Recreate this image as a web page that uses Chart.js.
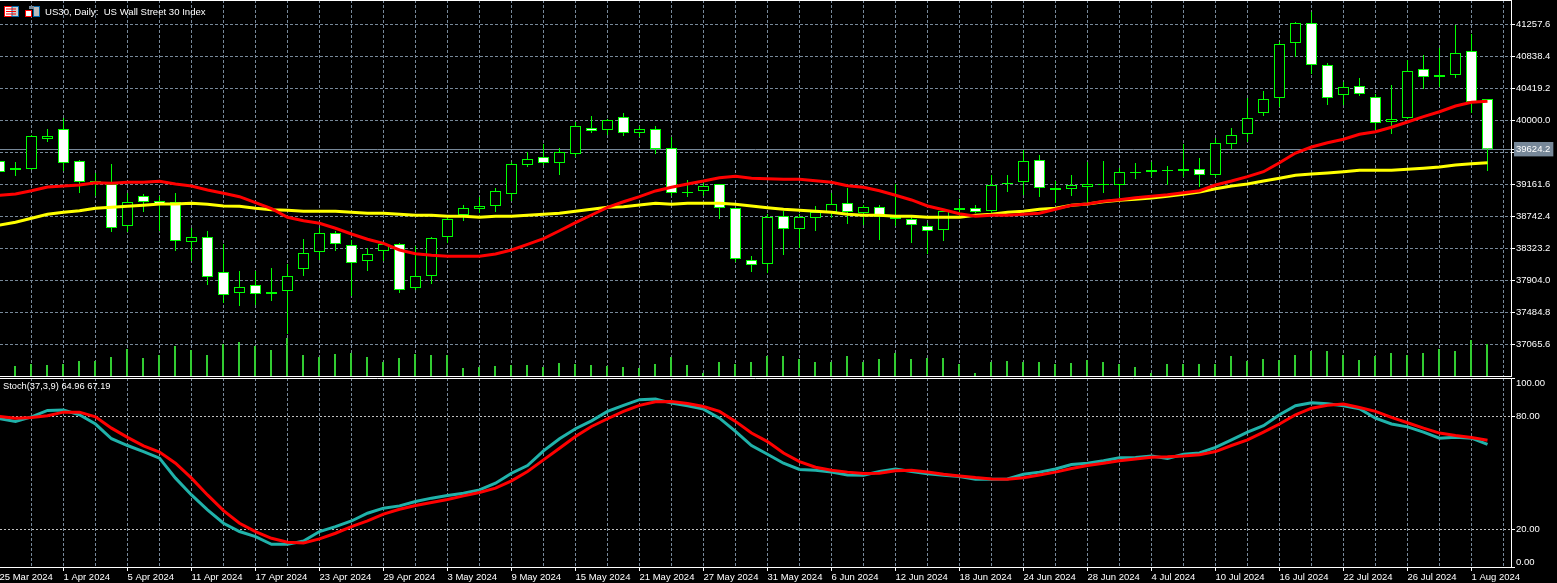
<!DOCTYPE html>
<html>
<head>
<meta charset="utf-8">
<title>US30, Daily</title>
<script src="https://cdn.jsdelivr.net/npm/chart.js@4"></script>
<style>
  html, body { margin: 0; padding: 0; background: #000; overflow: hidden; }
  canvas { position: absolute; left: 0; }
  #priceChart { top: 0; }
  #stochChart { top: 378px; }
  #topLine { position: absolute; left: 0; top: 0; width: 1512px; height: 1px; background: #fff; z-index: 2; }
  .caption { position: absolute; color: #fff; font-family: "Liberation Sans", sans-serif; white-space: pre; z-index: 2; }
  #mainCaption { left: 45px; top: 6px; font-size: 9.6px; }
  #stochCaption { left: 3px; top: 381px; font-size: 9.3px; }
  .icon { position: absolute; top: 6px; z-index: 2; }
</style>
</head>
<body>
<div id="topLine"></div>
<svg class="icon" style="left:4px" width="15" height="11" viewBox="0 0 15 11">
  <rect x="0.5" y="0.5" width="14" height="10" fill="#fff" stroke="#f00"/>
  <rect x="8" y="0.5" width="6.5" height="10" fill="#ccc" stroke="#06a"/>
  <path d="M2 3h10M2 5.5h10M2 8h10" stroke="#f00"/>
</svg>
<svg class="icon" style="left:25px" width="15" height="11" viewBox="0 0 15 11">
  <rect x="0.5" y="4.5" width="6" height="6" fill="#fff" stroke="#f00"/>
  <rect x="8.5" y="0.5" width="6" height="10" fill="#bbb" stroke="#06a"/>
  <rect x="4" y="0" width="5" height="3" fill="#789"/>
</svg>
<div id="mainCaption" class="caption">US30, Daily:  US Wall Street 30 Index</div>
<div id="stochCaption" class="caption">Stoch(37,3,9) 64.96 67.19</div>
<canvas id="priceChart" width="1557" height="377"></canvas>
<canvas id="stochChart" width="1557" height="205"></canvas>
<script>
// Trading days shown on the time axis
const dates = [
    '25 Mar 2024', '26 Mar 2024', '27 Mar 2024', '28 Mar 2024',
    '1 Apr 2024', '2 Apr 2024', '3 Apr 2024', '4 Apr 2024', '5 Apr 2024', '8 Apr 2024', '9 Apr 2024', '10 Apr 2024', '11 Apr 2024', '12 Apr 2024',
    '15 Apr 2024', '16 Apr 2024', '17 Apr 2024', '18 Apr 2024', '19 Apr 2024', '22 Apr 2024', '23 Apr 2024', '24 Apr 2024', '25 Apr 2024', '26 Apr 2024', '29 Apr 2024', '30 Apr 2024',
    '1 May 2024', '2 May 2024', '3 May 2024', '6 May 2024', '7 May 2024', '8 May 2024', '9 May 2024', '10 May 2024', '13 May 2024', '14 May 2024', '15 May 2024', '16 May 2024', '17 May 2024',
    '20 May 2024', '21 May 2024', '22 May 2024', '23 May 2024', '24 May 2024', '27 May 2024', '28 May 2024', '29 May 2024', '30 May 2024', '31 May 2024',
    '3 Jun 2024', '4 Jun 2024', '5 Jun 2024', '6 Jun 2024', '7 Jun 2024', '10 Jun 2024', '11 Jun 2024', '12 Jun 2024', '13 Jun 2024', '14 Jun 2024',
    '17 Jun 2024', '18 Jun 2024', '19 Jun 2024', '20 Jun 2024', '21 Jun 2024', '24 Jun 2024', '25 Jun 2024', '26 Jun 2024', '27 Jun 2024', '28 Jun 2024',
    '1 Jul 2024', '2 Jul 2024', '3 Jul 2024', '4 Jul 2024', '5 Jul 2024', '8 Jul 2024', '9 Jul 2024', '10 Jul 2024', '11 Jul 2024', '12 Jul 2024',
    '15 Jul 2024', '16 Jul 2024', '17 Jul 2024', '18 Jul 2024', '19 Jul 2024', '22 Jul 2024', '23 Jul 2024', '24 Jul 2024', '25 Jul 2024', '26 Jul 2024',
    '29 Jul 2024', '30 Jul 2024', '31 Jul 2024', '1 Aug 2024', '2 Aug 2024'
];

// Daily candles
const opens = [
    39469.5, 39351.6, 39364.7, 39757.7, 39888.7, 39469.5, 39207.5, 39168.2, 38618, 39011,
    38945.5, 38932.4, 38408.4, 38473.9, 38015.4, 37740.3, 37845.1, 37727.2, 37766.5, 38054.7,
    38277.4, 38526.3, 38369.1, 38159.5, 38290.5, 38382.2, 37805.8, 37963, 38473.9, 38762.1,
    38840.7, 38880, 39037.2, 39417.1, 39521.9, 39443.3, 39561.2, 39901.8, 39875.6, 40045.9,
    39836.3, 39888.7, 39639.8, 39063.4, 39076.5, 39168.2, 38853.8, 38172.6, 38120.2, 38749,
    38578.7, 38722.8, 38801.4, 38919.3, 38788.3, 38866.9, 38709.7, 38709.7, 38618, 38565.6,
    38827.6, 38853.8, 38814.5, 39168.2, 39194.4, 39482.6, 39089.6, 39102.7, 39128.9, 39155.1,
    39155.1, 39312.3, 39325.4, 39338.5, 39338.5, 39364.7, 39286.1, 39692.2, 39823.2, 40098.3,
    40294.8, 41015.3, 41277.3, 40727.1, 40334.1, 40452, 40307.9, 39980.4, 40032.8, 40674.7,
    40596.1, 40596.1, 40910.5, 40281.7
];
const highs = [
    39482.6, 39456.4, 39810.1, 39888.7, 40032.8, 39482.6, 39312.3, 39430.2, 39050.3, 39037.2,
    39011, 39050.3, 38591.8, 38552.5, 38382.2, 38028.5, 38028.5, 38067.8, 38120.2, 38447.7,
    38591.8, 38552.5, 38434.6, 38329.8, 38395.3, 38395.3, 38356, 38473.9, 38762.1, 38893.1,
    38997.9, 39115.8, 39456.4, 39587.4, 39692.2, 39639.8, 39980.4, 40059, 40019.7, 40098.3,
    39928, 39928, 39783.9, 39220.6, 39181.3, 39168.2, 38853.8, 38225, 38775.2, 38814.5,
    38775.2, 38880, 39050.3, 39115.8, 38893.1, 38893.1, 39168.2, 38735.9, 38657.3, 38840.7,
    38971.7, 38893.1, 39286.1, 39286.1, 39613.6, 39548.1, 39207.5, 39286.1, 39456.4, 39469.5,
    39377.8, 39443.3, 39456.4, 39404, 39692.2, 39508.8, 39770.8, 39901.8, 40294.8, 40386.5,
    41028.4, 41290.4, 41421.4, 40753.3, 40504.4, 40556.8, 40347.2, 40465.1, 40792.6, 40858.1,
    40949.8, 41251.1, 41133.2, 40281.7
];
const lows = [
    39325.4, 39273, 39351.6, 39718.4, 39338.5, 39050.3, 39011, 38539.4, 38539.4, 38801.4,
    38552.5, 38290.5, 38159.5, 37845.1, 37609.3, 37570, 37583.1, 37635.5, 37203.2, 37963,
    38172.6, 38290.5, 37701, 38028.5, 38159.5, 37740.3, 37779.6, 37858.2, 38395.3, 38683.5,
    38788.3, 38801.4, 38945.5, 39390.9, 39417.1, 39286.1, 39521.9, 39836.3, 39810.1, 39797,
    39783.9, 39561.2, 39011, 38997.9, 39011, 38709.7, 38146.4, 38015.4, 38002.3, 38238.1,
    38329.8, 38552.5, 38722.8, 38644.2, 38631.1, 38434.6, 38618, 38395.3, 38251.2, 38421.5,
    38735.9, 38788.3, 38788.3, 39063.4, 39024.1, 38997.9, 38919.3, 39011, 38919.3, 39050.3,
    38997.9, 39233.7, 39259.9, 39155.1, 39259.9, 39128.9, 39259.9, 39626.7, 39718.4, 40059,
    40176.9, 40831.9, 40609.2, 40203.1, 40203.1, 40321, 39875.6, 39823.2, 40019.7, 40412.7,
    40438.9, 40556.8, 40098.3, 39338.5
];
const closes = [
    39325.4, 39377.8, 39797, 39797, 39443.3, 39194.4, 39168.2, 38591.8, 38932.4, 38932.4,
    38906.2, 38421.5, 38473.9, 37949.9, 37714.1, 37818.9, 37727.2, 37753.4, 37963, 38264.3,
    38526.3, 38382.2, 38133.3, 38251.2, 38382.2, 37779.6, 37963, 38460.8, 38709.7, 38853.8,
    38880, 39076.5, 39430.2, 39495.7, 39443.3, 39587.4, 39928, 39862.5, 40006.6, 39836.3,
    39888.7, 39626.7, 39050.3, 39050.3, 39142, 38853.8, 38185.7, 38107.1, 38735.9, 38578.7,
    38735.9, 38801.4, 38906.2, 38801.4, 38866.9, 38735.9, 38735.9, 38631.1, 38552.5, 38814.5,
    38853.8, 38801.4, 39155.1, 39181.3, 39469.5, 39115.8, 39115.8, 39155.1, 39168.2, 39168.2,
    39325.4, 39325.4, 39351.6, 39351.6, 39364.7, 39286.1, 39705.3, 39810.1, 40032.8, 40281.7,
    41002.2, 41277.3, 40727.1, 40294.8, 40438.9, 40347.2, 39967.3, 40019.7, 40648.5, 40569.9,
    40569.9, 40884.3, 40242.4, 39624.2
];

// Moving averages
const redMa = [
    39020, 39037, 39080, 39129, 39142, 39155, 39185, 39177, 39190, 39190,
    39204, 39168, 39142, 39090, 39046, 39002, 38923, 38845, 38732, 38687,
    38653, 38588, 38513, 38444, 38391, 38304, 38255, 38234, 38221, 38221,
    38221, 38251, 38304, 38378, 38452, 38556, 38661, 38762, 38863, 38936,
    39002, 39077, 39125, 39168, 39207, 39251, 39269, 39243, 39238, 39230,
    39230, 39211, 39190, 39146, 39125, 39080, 39020, 38959, 38880, 38831,
    38779, 38745, 38758, 38758, 38771, 38784, 38837, 38889, 38906, 38942,
    38963, 38989, 39007, 39028, 39054, 39080, 39155, 39207, 39264, 39329,
    39447, 39574, 39653, 39709, 39754, 39819, 39853, 39911, 39980, 40050,
    40115, 40190, 40238, 40252
];
const yellowMa = [
    38631, 38667, 38719, 38771, 38798, 38818, 38850, 38863, 38876, 38889,
    38906, 38906, 38915, 38902, 38880, 38876, 38850, 38831, 38824, 38811,
    38811, 38811, 38798, 38784, 38784, 38771, 38758, 38758, 38745, 38745,
    38732, 38745, 38745, 38758, 38771, 38784, 38811, 38837, 38863, 38871,
    38893, 38915, 38902, 38915, 38915, 38915, 38902, 38880, 38858, 38837,
    38824, 38811, 38798, 38771, 38758, 38758, 38745, 38745, 38732, 38732,
    38732, 38758, 38771, 38798, 38811, 38837, 38850, 38889, 38906, 38936,
    38955, 38968, 38985, 39007, 39033, 39063, 39107, 39142, 39168, 39207,
    39243, 39282, 39299, 39312, 39329, 39348, 39348, 39348, 39361, 39374,
    39391, 39417, 39434, 39447
];

// Tick volume
const volumes = [
    10, 10, 12, 11, 12, 15, 15, 19, 27, 18,
    21, 30, 26, 21, 32, 34, 30, 26, 38, 21,
    19, 22, 23, 19, 14, 18, 22, 21, 21, 8,
    9, 10, 11, 11, 9, 13, 12, 11, 10, 9,
    8, 12, 19, 11, 3, 14, 12, 14, 20, 20,
    17, 14, 14, 20, 14, 17, 23, 17, 18, 18,
    12, 3, 14, 15, 14, 14, 12, 13, 16, 14,
    12, 9, 3, 12, 12, 12, 12, 20, 15, 17,
    16, 21, 25, 25, 21, 16, 20, 23, 21, 23,
    27, 25, 36, 32
];

// Stochastic oscillator
const stochMain = [
    78.6, 77.2, 79.6, 83.0, 83.2, 80.7, 75.8, 68.0, 64.4, 61.2,
    57.7, 47.1, 38.2, 30.3, 23.2, 18.8, 16.1, 12.0, 12.0, 13.8,
    18.8, 21.4, 24.4, 28.5, 31.2, 32.4, 34.7, 36.5, 37.9, 39.1,
    40.9, 44.4, 49.7, 53.8, 61.6, 68.0, 73.3, 77.5, 82.5, 85.7,
    88.7, 89.0, 86.9, 85.5, 83.7, 78.9, 71.9, 64.4, 59.8, 55.0,
    51.7, 51.3, 50.3, 48.8, 48.7, 50.6, 52.0, 50.6, 49.4, 48.7,
    48.0, 46.5, 46.5, 46.7, 49.2, 50.3, 52.0, 54.3, 55.0, 56.3,
    57.9, 58.1, 58.9, 57.5, 59.8, 60.5, 63.4, 67.4, 71.5, 74.9,
    80.7, 85.5, 87.1, 86.5, 85.5, 83.9, 78.9, 75.8, 74.3, 71.5,
    68.3, 68.8, 68.3, 64.96
];
const stochSignal = [
    79.8, 78.9, 79.3, 80.2, 82.1, 82.1, 79.6, 73.6, 68.7, 64.2,
    60.9, 55.0, 47.1, 38.2, 29.9, 23.2, 18.8, 15.2, 13.1, 12.7,
    14.9, 17.9, 21.4, 24.4, 28.0, 30.6, 32.6, 34.2, 35.8, 37.7,
    39.5, 41.8, 45.7, 50.6, 56.8, 63.0, 69.2, 74.5, 78.6, 82.5,
    85.7, 87.6, 87.8, 86.7, 85.1, 82.5, 77.2, 71.0, 66.5, 60.4,
    55.9, 52.9, 51.3, 50.3, 49.6, 49.7, 51.0, 51.3, 50.4, 49.2,
    48.3, 47.4, 46.7, 46.5, 47.3, 48.8, 50.3, 52.2, 53.8, 55.0,
    56.3, 57.3, 58.2, 58.4, 58.8, 59.5, 61.2, 64.4, 67.4, 71.5,
    75.8, 80.7, 84.2, 85.8, 86.4, 84.6, 82.5, 79.3, 76.5, 73.6,
    71.0, 69.7, 68.7, 67.19
];

// Axis labels
const currentPrice = 39624.2;
const priceTicks = [41257.6, 40838.4, 40419.2, 40000, 39624.2, 39580.8, 39161.6, 38742.4, 38323.2, 37904, 37484.8, 37065.6];
const hiddenPriceTicks = [39580.8];
const stochTicks = [100, 80, 20, 0];

const GRID = '#778899';
const CANDLE = '#00ff00';
const BAR_W = 16;
const LABEL_FONT = 'Liberation Sans';

// Chart.js reserves room for the first and last tick labels, the panes here run edge to edge
function noPadding(scale) {
    scale.paddingTop = 0;
    scale.paddingBottom = 0;
    scale.paddingLeft = 0;
    scale.paddingRight = 0;
}

// Every other slot carries a vertical grid line, every fourth one a date
function timeTicks(scale) {
    const ticks = [];
    for (let i = 0; i <= 94; i += 2) ticks.push({ value: i });
    scale.ticks = ticks;
}

function timeAxis(showLabels, height) {
    return {
        type: 'linear',
        offset: false,
        bounds: 'data',
        min: 0.5 / BAR_W,
        max: 1511.5 / BAR_W,
        afterBuildTicks: timeTicks,
        afterFit: (scale) => { scale.height = height; noPadding(scale); },
        grid: {
            offset: false,
            color: GRID,
            lineWidth: 1,
            drawTicks: showLabels,
            tickLength: 4,
            tickBorderDash: [],
            tickColor: (c) => (c.tick && c.tick.value % 4 === 0 ? '#fff' : 'rgba(0,0,0,0)')
        },
        border: { color: '#fff', width: 1, dash: [3, 2] },
        ticks: {
            display: showLabels,
            autoSkip: false,
            maxRotation: 0,
            minRotation: 0,
            align: 'start',
            padding: 1,
            color: '#fff',
            font: { family: LABEL_FONT, size: 9.5 },
            callback: (value) => (value % 4 === 0 && dates[value] ? dates[value] : '')
        }
    };
}

const points = (values) => values.map((y, i) => ({ x: i, y: y }));

// Main pane: candles, moving averages and volume
new Chart(document.getElementById('priceChart'), {
    type: 'bar',
    data: {
        datasets: [
            {
                type: 'line', data: points(yellowMa), xAxisID: 'x', yAxisID: 'y',
                borderColor: '#ffff00', borderWidth: 3, pointRadius: 0, tension: 0, order: 2
            },
            {
                type: 'line', data: points(redMa), xAxisID: 'x', yAxisID: 'y',
                borderColor: '#ff0000', borderWidth: 3, pointRadius: 0, tension: 0, order: 1
            },
            {
                // candle bodies: white when the day closed lower
                data: opens.map((o, i) => ({ x: i, y: [o, closes[i]] })),
                xAxisID: 'x', yAxisID: 'y',
                backgroundColor: opens.map((o, i) => (closes[i] < o ? '#ffffff' : '#000000')),
                borderColor: CANDLE, borderWidth: 1, borderSkipped: false,
                barThickness: 11, grouped: false, inflateAmount: 0, order: 3
            },
            {
                data: lows.map((l, i) => ({ x: i, y: [l, highs[i]] })),
                xAxisID: 'x', yAxisID: 'y',
                backgroundColor: CANDLE, borderWidth: 0,
                barThickness: 1, grouped: false, inflateAmount: 0, order: 4
            },
            {
                data: points(volumes), xAxisID: 'xVol', yAxisID: 'yVol',
                backgroundColor: '#32cd32', borderWidth: 0,
                barThickness: 2, grouped: false, inflateAmount: 0, order: 5
            }
        ]
    },
    options: {
        responsive: false,
        animation: false,
        events: [],
        layout: { padding: 0 },
        plugins: { legend: { display: false }, tooltip: { enabled: false } },
        scales: {
            x: timeAxis(false, 1),
            // volume bars sit half a pixel left of the candles
            xVol: { type: 'linear', axis: 'x', display: false, offset: false, bounds: 'data', min: 1 / BAR_W, max: 1512 / BAR_W },
            yVol: { type: 'linear', axis: 'y', display: false, beginAtZero: true, min: 0, max: 376 },
            y: {
                type: 'linear',
                position: 'right',
                min: 36652.95,
                max: 41578.55,
                bounds: 'data',
                afterBuildTicks: (scale) => { scale.ticks = priceTicks.map((v) => ({ value: v })); },
                afterFit: (scale) => { scale.width = 46; noPadding(scale); },
                grid: {
                    color: GRID,
                    lineWidth: 1,
                    tickLength: 4,
                    tickBorderDash: [],
                    tickColor: '#fff'
                },
                border: {
                    color: '#fff',
                    width: 1,
                    dash: (c) => (c.tick && c.tick.value === currentPrice ? [] : [3, 2])
                },
                ticks: {
                    autoSkip: false,
                    padding: 1,
                    color: '#fff',
                    font: { family: LABEL_FONT, size: 9.5 },
                    showLabelBackdrop: (c) => !!c.tick && c.tick.value === currentPrice,
                    backdropColor: GRID,
                    backdropPadding: { left: 2, right: 3, top: 1.5, bottom: 1.5 },
                    callback: (value) => (hiddenPriceTicks.includes(value) ? '' : value.toFixed(1))
                }
            }
        }
    }
});

// Lower pane: stochastic oscillator
new Chart(document.getElementById('stochChart'), {
    type: 'line',
    data: {
        datasets: [
            {
                data: points(stochMain), borderColor: '#20b2aa', borderWidth: 3,
                pointRadius: 0, tension: 0, order: 2
            },
            {
                data: points(stochSignal), borderColor: '#ff0000', borderWidth: 3,
                pointRadius: 0, tension: 0, order: 1
            }
        ]
    },
    options: {
        responsive: false,
        animation: false,
        events: [],
        layout: { padding: 0 },
        plugins: { legend: { display: false }, tooltip: { enabled: false } },
        scales: {
            x: timeAxis(true, 16),
            y: {
                type: 'linear',
                position: 'right',
                min: 0,
                max: 100.2,
                bounds: 'data',
                afterBuildTicks: (scale) => { scale.ticks = stochTicks.map((v) => ({ value: v })); },
                afterFit: (scale) => { scale.width = 46; noPadding(scale); },
                grid: {
                    lineWidth: 1,
                    tickLength: 4,
                    tickBorderDash: [],
                    tickColor: '#fff',
                    color: (c) => {
                        if (!c.tick) return '#c0c0c0';
                        if (c.tick.value === 100) return '#fff';
                        return c.tick.value === 0 ? 'rgba(0,0,0,0)' : '#c0c0c0';
                    }
                },
                border: {
                    color: '#fff',
                    width: 1,
                    dash: (c) => (c.tick && c.tick.value === 100 ? [] : [2, 2])
                },
                ticks: {
                    autoSkip: false,
                    padding: 1,
                    color: '#fff',
                    // the end labels are pushed inside the pane by a blank line
                    font: { family: LABEL_FONT, size: 9.5, lineHeight: '9px' },
                    callback: (value) => {
                        const text = value.toFixed(2);
                        if (value === 100) return ['', text];
                        if (value === 0) return [text, ''];
                        return text;
                    }
                }
            }
        }
    }
});
</script>
</body>
</html>
